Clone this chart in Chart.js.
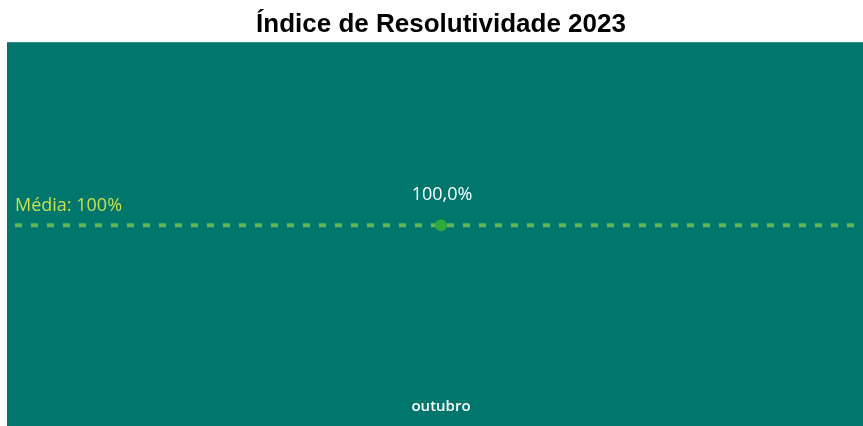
<!DOCTYPE html>
<html>
<head>
<meta charset="utf-8">
<script src="https://cdn.jsdelivr.net/npm/chart.js@4.4.0/dist/chart.umd.min.js"></script>
<style>
    html, body { margin: 0; padding: 0; background: #ffffff; }
    #wrap { width: 863px; height: 426px; }
</style>
</head>
<body>
<div id="wrap"><canvas id="resolChart"></canvas></div>
<script>
// Data
const months = ['outubro'];
const resolutividade = [100];
const mediaValue = 100;
const mediaLabel = 'Média: 100%';

const TEAL = '#01766c';

// Teal panel under the title
const panelBackground = {
    id: 'panelBackground',
    beforeDraw(chart) {
        const ctx = chart.ctx;
        const top = chart.titleBlock.bottom;
        ctx.save();
        ctx.fillStyle = TEAL;
        ctx.fillRect(7, top, chart.width - 7, chart.height - top);
        ctx.restore();
    }
};

// Average line + labels
const mediaLine = {
    id: 'mediaLine',
    afterDatasetsDraw(chart) {
        const ctx = chart.ctx;
        const area = chart.chartArea;
        const y = chart.scales.y.getPixelForValue(mediaValue);
        const x0 = area.left - 4;
        ctx.save();
        ctx.strokeStyle = '#5cb85a';
        ctx.lineWidth = 4;
        ctx.setLineDash([7, 9]);
        ctx.beginPath();
        ctx.moveTo(x0, y);
        ctx.lineTo(chart.width, y);
        ctx.stroke();
        ctx.setLineDash([]);

        ctx.fillStyle = '#c5e04c';
        ctx.font = '18px "Open Sans", sans-serif';
        ctx.textAlign = 'left';
        ctx.textBaseline = 'alphabetic';
        ctx.fillText(mediaLabel, x0, y - 14);

        // point on top of the line
        const meta = chart.getDatasetMeta(0);
        meta.data.forEach((pt, i) => {
            ctx.fillStyle = '#2eaa3a';
            ctx.beginPath();
            ctx.arc(pt.x, pt.y, 6, 0, Math.PI * 2);
            ctx.fill();
            ctx.fillStyle = '#ffffff';
            ctx.textAlign = 'center';
            ctx.font = '18px "Open Sans", sans-serif';
            const v = resolutividade[i].toFixed(1).replace('.', ',') + '%';
            ctx.fillText(v, pt.x + 1, pt.y - 25);
        });
        ctx.restore();
    }
};

new Chart(document.getElementById('resolChart').getContext('2d'), {
    type: 'line',
    data: {
        labels: months,
        datasets: [{
            data: resolutividade,
            borderColor: '#2eaa3a',
            backgroundColor: '#2eaa3a',
            pointRadius: 0,
            pointHoverRadius: 0,
            borderWidth: 2
        }]
    },
    options: {
        responsive: true,
        maintainAspectRatio: false,
        animation: false,
        layout: { padding: { left: 19, right: 0, top: 0, bottom: 6 } },
        scales: {
            x: {
                offset: true,
                grid: { display: false },
                border: { display: false },
                ticks: { color: '#ffffff', font: { family: 'Open Sans', size: 15, weight: '600' }, padding: 4 }
            },
            y: {
                display: false,
                min: 0,
                max: 214
            }
        },
        plugins: {
            legend: { display: false },
            tooltip: { enabled: false },
            title: {
                display: true,
                text: 'Índice de Resolutividade 2023',
                color: '#000000',
                font: { family: 'Liberation Sans', size: 26, weight: 'bold' },
                padding: { top: 9, bottom: 2 }
            }
        }
    },
    plugins: [panelBackground, mediaLine]
});
</script>
</body>
</html>
